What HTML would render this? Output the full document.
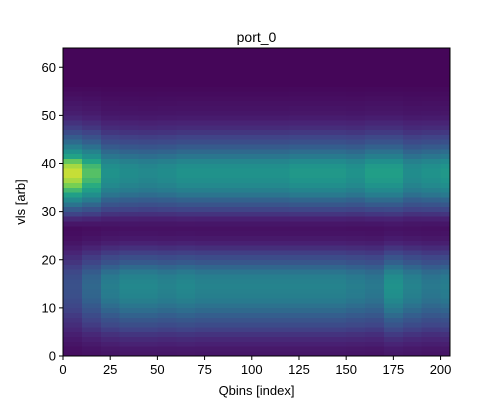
<!DOCTYPE html>
<html><head><meta charset="utf-8"><style>
body{margin:0;background:#fff}
svg{display:block;font-family:"Liberation Sans","DejaVu Sans",sans-serif}
</style></head><body>
<svg id="chart" width="500" height="400">
<rect width="500" height="400" fill="#fff"/>
<g id="cells" shape-rendering="crispEdges"></g>
<rect x="63" y="48" width="387" height="308" fill="none" stroke="#000" stroke-width="1"/>
<g id="axes" font-size="13" fill="#000"></g>
<text x="256.5" y="42" font-size="14" text-anchor="middle">port_0</text>
<text x="256.5" y="395" font-size="13" text-anchor="middle">Qbins [index]</text>
<text transform="translate(25,202) rotate(-90)" font-size="13" text-anchor="middle">vls [arb]</text>
</svg>
<script>
const nCols = 205;
const nRows = 64;
const upperRowProfile = [0,0,0,0,0,0,0,0,0,0,0,0,0,0,0,0,0,0,0,0,0,0,0,0,0,0,0,0.03,0.08,0.15,0.22,0.3,0.38,0.46,0.52,0.57,0.6,0.62,0.62,0.6,0.55,0.47,0.41,0.34,0.28,0.23,0.18,0.14,0.11,0.08,0.06,0.05,0.04,0.03,0.02,0.01,0,0,0,0,0,0,0,0];
const lowerRowProfile = [0.06,0.07,0.1,0.13,0.17,0.22,0.27,0.31,0.36,0.41,0.45,0.49,0.52,0.53,0.54,0.53,0.51,0.46,0.39,0.32,0.27,0.21,0.15,0.1,0.07,0.05,0.04,0.03,0.02,0.02,0.02,0.01,0,0,0,0,0,0,0,0,0,0,0,0,0,0,0,0,0,0,0,0,0,0,0,0,0,0,0,0,0,0,0,0];
const upperGain = [1.5,1.3,1.0,0.95,0.92,0.95,1.0,1.0,1.0,1.0,1.0,1.0,1.05,1.05,1.05,1.0,1.1,1.1,0.95,1.0,1.05];
const lowerGain = [0.55,0.75,0.95,1.05,1.05,1.0,1.05,1.0,1.0,1.0,1.0,1.0,1.0,1.0,1.0,0.95,0.9,1.15,1.0,0.9,0.95];
const xTicks = [0,25,50,75,100,125,150,175,200];
const yTicks = [0,10,20,30,40,50,60];

const svgNS = "http://www.w3.org/2000/svg";
const x0 = 63, x1 = 450, yTop = 48, yBot = 356;
const xScale = v => x0 + v * (x1 - x0) / nCols;
const yScale = v => yBot - v * (yBot - yTop) / nRows;
const stops = [[0,[68,1,84]],[0.13,[72,35,116]],[0.25,[64,67,135]],[0.38,[52,94,141]],[0.5,[41,120,142]],[0.63,[32,144,140]],[0.75,[34,167,132]],[0.88,[121,209,81]],[1,[253,231,37]]];
function viridis(t){
  t = Math.max(0, Math.min(1, t));
  for (let i = 1; i < stops.length; i++) {
    if (t <= stops[i][0]) {
      const a = stops[i-1], b = stops[i], f = (t - a[0]) / (b[0] - a[0]);
      const c = a[1].map((v, k) => Math.round(v + (b[1][k] - v) * f));
      return "rgb(" + c.join(",") + ")";
    }
  }
  return "rgb(253,231,37)";
}
const cells = document.getElementById("cells");
for (let c = 0; c < nCols; c++) {
  const g = Math.min(upperGain.length - 1, Math.floor(c / 10));
  for (let r = 0; r < nRows; r++) {
    const v = 0.02 + upperRowProfile[r] * upperGain[g] + lowerRowProfile[r] * lowerGain[g];
    const rect = document.createElementNS(svgNS, "rect");
    rect.setAttribute("x", xScale(c));
    rect.setAttribute("y", yScale(r + 1));
    rect.setAttribute("width", xScale(c + 1) - xScale(c) + 0.3);
    rect.setAttribute("height", yScale(r) - yScale(r + 1) + 0.3);
    rect.setAttribute("fill", viridis(v));
    
    
    cells.appendChild(rect);
  }
}
const axes = document.getElementById("axes");
xTicks.forEach(t => {
  const x = xScale(t);
  const l = document.createElementNS(svgNS, "line");
  l.setAttribute("x1", x); l.setAttribute("x2", x); l.setAttribute("y1", yBot); l.setAttribute("y2", yBot + 4);
  l.setAttribute("stroke", "#000");
  
  
  axes.appendChild(l);
  const tx = document.createElementNS(svgNS, "text");
  tx.setAttribute("x", x); tx.setAttribute("y", yBot + 18); tx.setAttribute("text-anchor", "middle");
  tx.textContent = t;
  
  
  axes.appendChild(tx);
});
yTicks.forEach(t => {
  const y = yScale(t);
  const l = document.createElementNS(svgNS, "line");
  l.setAttribute("x1", x0 - 4); l.setAttribute("x2", x0); l.setAttribute("y1", y); l.setAttribute("y2", y);
  l.setAttribute("stroke", "#000");
  
  
  axes.appendChild(l);
  const tx = document.createElementNS(svgNS, "text");
  tx.setAttribute("x", x0 - 7); tx.setAttribute("y", y + 4.5); tx.setAttribute("text-anchor", "end");
  tx.textContent = t;
  
  
  axes.appendChild(tx);
});
</script>
</body></html>
